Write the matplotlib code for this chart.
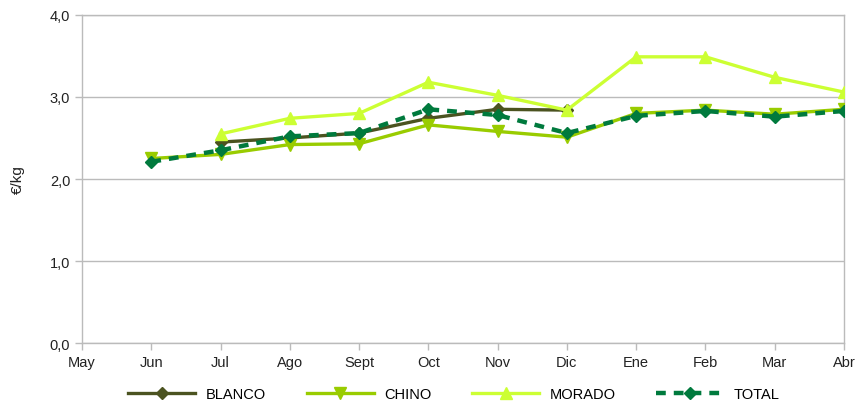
import numpy as np
import matplotlib.pyplot as plt

plt.rcParams['font.family'] = ['Liberation Sans', 'DejaVu Sans']

# Datos (€/kg)
meses = ['May', 'Jun', 'Jul', 'Ago', 'Sept', 'Oct', 'Nov', 'Dic', 'Ene', 'Feb', 'Mar', 'Abr']
blanco = [np.nan, np.nan, 2.45, 2.50, 2.56, 2.74, 2.85, 2.84, np.nan, np.nan, np.nan, np.nan]
chino = [np.nan, 2.25, 2.30, 2.42, 2.43, 2.66, 2.58, 2.51, 2.80, 2.84, 2.79, 2.85]
morado = [np.nan, np.nan, 2.55, 2.74, 2.80, 3.18, 3.02, 2.84, 3.49, 3.49, 3.24, 3.06]
total = [np.nan, 2.21, 2.35, 2.52, 2.56, 2.85, 2.78, 2.56, 2.77, 2.83, 2.76, 2.83]

x = np.arange(len(meses))

fig = plt.figure(figsize=(8.59, 4.06), dpi=100)
ax = fig.add_axes([0.0955, 0.1527, 0.8870, 0.8079])

ax.plot(x, blanco, color='#4b5320', lw=2.4, marker='D', ms=6, label='BLANCO', zorder=3)
ax.plot(x, chino, color='#99cc00', lw=2.4, marker='v', ms=8, label='CHINO', zorder=3)
ax.plot(x, morado, color='#ccff33', lw=2.4, marker='^', ms=8, label='MORADO', zorder=3)
ax.plot(x, total, color='#007a3d', lw=3.2, ls=(0, (2.2, 1.8)), marker='D', ms=6,
        label='TOTAL', zorder=4)

ax.set_xlim(0, len(meses) - 1)
ax.set_ylim(0, 4)
ax.set_xticks(x)
ax.set_xticklabels(meses)
ax.set_yticks([0, 1, 2, 3, 4])
ax.set_yticklabels(['0,0', '1,0', '2,0', '3,0', '4,0'])
ax.yaxis.grid(True, color='#bbbbbb', lw=1)
ax.set_axisbelow(True)
for s in ax.spines.values():
    s.set_color('#bbbbbb')
    s.set_linewidth(1)
ax.tick_params(colors='#bbbbbb', labelcolor='#222222', labelsize=10.5, length=5, width=1)
ax.set_ylabel('€/kg', fontsize=11, color='#222222', labelpad=18)

ax.legend(loc='upper center', bbox_to_anchor=(0.488, -0.095), ncol=4, frameon=False,
          fontsize=10.5, handlelength=4.6, columnspacing=2.8, handletextpad=0.7)

fig.savefig('out.png', dpi=100)
